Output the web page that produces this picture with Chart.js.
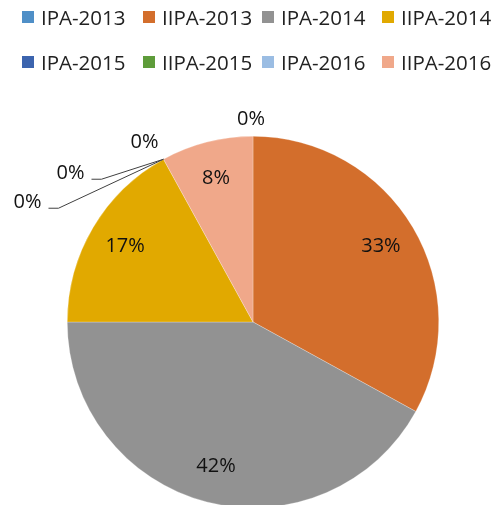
<!DOCTYPE html>
<html>
<head>
<meta charset="utf-8">
<script src="https://cdn.jsdelivr.net/npm/chart.js@4.4.0/dist/chart.umd.min.js"></script>
<style>
  html, body { margin: 0; padding: 0; background: #fff; overflow: hidden; }
  #wrap { position: relative; width: 496px; height: 505px; overflow: hidden; }
  #legend {
    position: absolute; top: 0; left: 0; width: 496px;
    display: grid; grid-template-columns: 121px 119px 120px auto;
    row-gap: 17px; padding: 3px 0 0 22px; box-sizing: border-box;
    font-family: "Open Sans", sans-serif; font-size: 20.5px; color: #222;
    z-index: 2;
  }
  .item { display: flex; align-items: center; height: 28px; white-space: nowrap; }
  .box { width: 12px; height: 12px; margin-right: 7px; flex: none; }
  #chart-box { position: absolute; top: 0; left: 0; width: 496px; height: 510px; }
</style>
</head>
<body>
<div id="wrap">
  <div id="legend"></div>
  <div id="chart-box"><canvas id="pie"></canvas></div>
</div>
<script>
// series
const categories = ["IPA-2013", "IIPA-2013", "IPA-2014", "IIPA-2014", "IPA-2015", "IIPA-2015", "IPA-2016", "IIPA-2016"];
const values = [0, 33, 42, 17, 0, 0, 0, 8];
const colors = ["#4F8FC7", "#D36E2C", "#929292", "#E1A900", "#3C64AE", "#5E9C3A", "#9BBDE3", "#F0A88A"];

// legend (html)
const legendEl = document.getElementById("legend");
categories.forEach((name, i) => {
    const div = document.createElement("div");
    div.className = "item";
    div.innerHTML = `<span class="box" style="background:${colors[i]}"></span><span>${name}</span>`;
    legendEl.appendChild(div);
});

// zero-value labels that sit on the same edge are stacked out to the left
const stackOffsets = [[-19, -17], [-93, 14], [-136, 43]];

const pieLabels = {
    id: "pieLabels",
    afterDatasetsDraw(chart) {
        const ctx = chart.ctx;
        const meta = chart.getDatasetMeta(0);
        ctx.save();
        ctx.font = "20px 'Open Sans', sans-serif";
        ctx.fillStyle = "#111";
        ctx.textAlign = "center";
        ctx.textBaseline = "middle";
        ctx.strokeStyle = "#404040";
        ctx.lineWidth = 1;
        let stackIdx = 0;
        meta.data.forEach((arc, i) => {
            const v = values[i];
            const { x, y, startAngle, endAngle, outerRadius } = arc.getProps(["x", "y", "startAngle", "endAngle", "outerRadius"], true);
            const text = v + "%";
            if (v > 0) {
                const mid = (startAngle + endAngle) / 2;
                const r = outerRadius * 0.8;
                ctx.fillText(text, x + Math.cos(mid) * r, y + Math.sin(mid) * r);
                return;
            }
            const ax = x + Math.cos(startAngle) * outerRadius;
            const ay = y + Math.sin(startAngle) * outerRadius;
            if (Math.abs(startAngle + Math.PI / 2) < 1e-6) {
                ctx.fillText(text, ax - 2, ay - 17);
                return;
            }
            const off = stackOffsets[stackIdx] || [-19, -17];
            const tx = ax + off[0], ty = ay + off[1];
            ctx.fillText(text, tx, ty);
            if (stackIdx > 0) {
                const w = ctx.measureText(text).width;
                const lx = tx + w / 2 + 7, ly = ty + 6;
                ctx.beginPath();
                ctx.moveTo(lx, ly);
                ctx.lineTo(lx + 10, ly);
                ctx.lineTo(ax, ay);
                ctx.stroke();
            }
            stackIdx++;
        });
        ctx.restore();
    }
};

new Chart(document.getElementById("pie").getContext("2d"), {
    type: "pie",
    data: {
        labels: categories,
        datasets: [{
            data: values,
            backgroundColor: colors,
            borderColor: "rgba(255,255,255,0.5)",
            borderWidth: 0.5
        }]
    },
    options: {
        responsive: true,
        maintainAspectRatio: false,
        animation: false,
        layout: { padding: { left: 67, right: 57, top: 136, bottom: 2 } },
        plugins: {
            legend: { display: false },
            tooltip: { enabled: false }
        }
    },
    plugins: [pieLabels]
});
</script>
</body>
</html>
